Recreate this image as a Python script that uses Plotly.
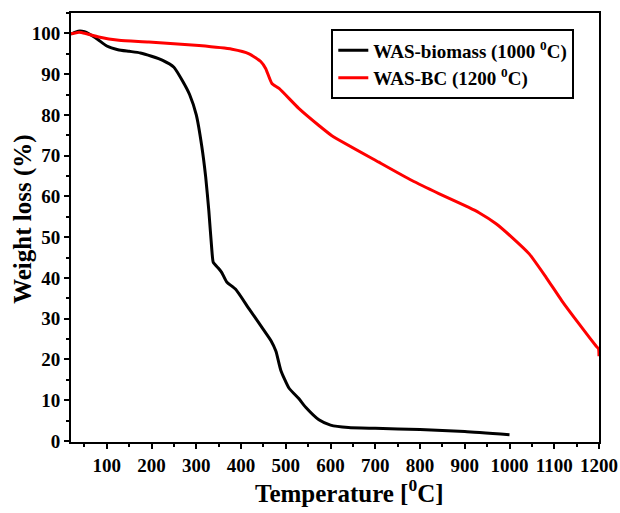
import plotly.graph_objects as go

# TGA curves: temperature (deg C) vs remaining weight (%)
biomass_temp = [20, 30, 40, 50, 60, 80, 100, 125, 150, 175, 200, 225, 250, 270, 285,
                300, 312, 321, 328, 335, 338, 350, 357, 368, 388, 418, 444, 467, 478,
                489, 507, 529, 545, 574, 600, 640, 700, 800, 900, 1000]
biomass_weight = [99.8, 100.3, 100.6, 100.4, 99.9, 98.5, 96.9, 96.0, 95.6, 95.2, 94.4,
                  93.4, 91.7, 88.2, 85.0, 80.0, 72.5, 64.8, 56.5, 46.5, 43.8, 42.3, 41.3,
                  39.0, 37.2, 32.4, 28.3, 24.6, 22.0, 17.3, 13.0, 10.4, 8.2, 5.2, 3.9,
                  3.3, 3.1, 2.8, 2.3, 1.5]

bc_temp = [20, 38, 55, 82, 127, 194, 306, 380, 418, 444, 455, 469, 485, 529, 574, 603,
           708, 782, 842, 909, 932, 970, 1006, 1044, 1082, 1117, 1155, 1195, 1199, 1200]
bc_weight = [99.9, 100.3, 99.9, 99.1, 98.3, 97.9, 97.0, 96.1, 95.0, 93.1, 91.4, 87.7,
             86.5, 81.6, 77.4, 74.9, 68.4, 63.9, 60.7, 57.3, 56.0, 53.3, 49.9, 45.9,
             40.1, 34.4, 28.8, 23.1, 22.6, 20.8]

series_names = ["WAS-biomass (1000 <sup>0</sup>C)", "WAS-BC (1200 <sup>0</sup>C)"]
x_ticks = [100, 200, 300, 400, 500, 600, 700, 800, 900, 1000, 1100, 1200]
y_ticks = [0, 10, 20, 30, 40, 50, 60, 70, 80, 90, 100]
x_title = "Temperature [<sup>0</sup>C]"
y_title = "Weight loss (%)"

FONT = "Liberation Serif, Times New Roman, serif"
TITLE_FONT = dict(family=FONT, size=25, color="black", weight="bold")

fig = go.Figure()
fig.add_trace(go.Scatter(x=biomass_temp, y=biomass_weight, mode="lines",
                         name=series_names[0],
                         line=dict(color="black", width=3, shape="spline", smoothing=0.5)))
fig.add_trace(go.Scatter(x=bc_temp, y=bc_weight, mode="lines",
                         name=series_names[1],
                         line=dict(color="#ff0000", width=3, shape="spline", smoothing=0.5)))

axis_common = dict(
    showline=True, linecolor="black", linewidth=2, mirror=True,
    ticks="outside", tickcolor="black", tickwidth=2, ticklen=5,
    showgrid=False, zeroline=False, automargin=False,
    tickfont=dict(family=FONT, size=19, color="black", weight="bold"),
)

fig.update_xaxes(
    range=[20, 1200], tickvals=x_ticks,
    minor=dict(dtick=50, tick0=0, ticks="outside", ticklen=3, tickwidth=2, tickcolor="black"),
    **axis_common,
)
fig.update_yaxes(
    range=[-0.25, 105], tickvals=y_ticks,
    minor=dict(dtick=5, tick0=0, ticks="outside", ticklen=3, tickwidth=2, tickcolor="black"),
    **axis_common,
)

# Axis titles placed as paper-anchored annotations
fig.add_annotation(text=x_title, xref="paper", yref="paper", x=0.528, y=-0.114,
                   xanchor="center", yanchor="middle", showarrow=False, font=TITLE_FONT)
fig.add_annotation(text=y_title, xref="paper", yref="paper", x=-0.091, y=0.52,
                   xanchor="center", yanchor="middle", textangle=-90,
                   showarrow=False, font=TITLE_FONT)

fig.update_layout(
    width=620, height=513,
    margin=dict(l=71, r=21, t=13, b=71),
    paper_bgcolor="white", plot_bgcolor="white",
    showlegend=True,
    legend=dict(
        x=0.493, y=0.962, xanchor="left", yanchor="top",
        bgcolor="white", bordercolor="black", borderwidth=2,
        font=dict(family=FONT, size=19, color="black", weight="bold"),
        tracegroupgap=0, itemwidth=30,
    ),
)

fig.write_html("out.html")
